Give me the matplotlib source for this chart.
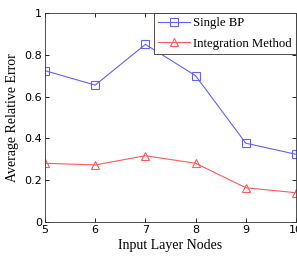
import matplotlib
matplotlib.use("Agg")
import matplotlib.pyplot as plt

nodes = [5, 6, 7, 8, 9, 10]
single_bp = [0.724, 0.655, 0.85, 0.70, 0.377, 0.324]
integration = [0.281, 0.273, 0.317, 0.281, 0.164, 0.14]
yticks = [0, 0.2, 0.4, 0.6, 0.8, 1]
yticklabels = ["0", "0.2", "0.4", "0.6", "0.8", "1"]

fig = plt.figure(figsize=(2.97, 2.57), dpi=100)
ax = fig.add_axes([45/297, 35/257, 251/297, 209/257])
blue = (0.38, 0.38, 1.0)
red = (1.0, 0.35, 0.35)
ax.plot(nodes, single_bp, color=blue, lw=0.8, marker='s', mfc='none', mec=blue, ms=6, mew=0.8, label='Single BP')
ax.plot(nodes, integration, color=red, lw=0.8, marker='^', mfc='none', mec=red, ms=6, mew=0.8, label='Integration Method')
ax.set_xlim(5, 10)
ax.set_ylim(0, 1)
ax.set_xticks(nodes)
ax.set_yticks(yticks)
ax.set_yticklabels(yticklabels)
ax.tick_params(direction='in', top=True, right=True, labelsize=8, length=3, width=0.6, pad=2)
for s in ax.spines.values():
    s.set_linewidth(0.6)
    s.set_color('#333333')
serif = 'Liberation Serif'
ax.set_xlabel('Input Layer Nodes', family=serif, fontsize=10, labelpad=3)
ax.set_ylabel('Average Relative Error', family=serif, fontsize=10, labelpad=4)
leg = ax.legend(loc='upper right', prop={'family': serif, 'size': 9.2}, fancybox=False,
                edgecolor='#333333', framealpha=1, borderaxespad=0, handlelength=2.5,
                borderpad=0.35, labelspacing=0.65, handletextpad=0.2)
leg.get_frame().set_linewidth(0.6)
fig.savefig('out.png', dpi=100)
